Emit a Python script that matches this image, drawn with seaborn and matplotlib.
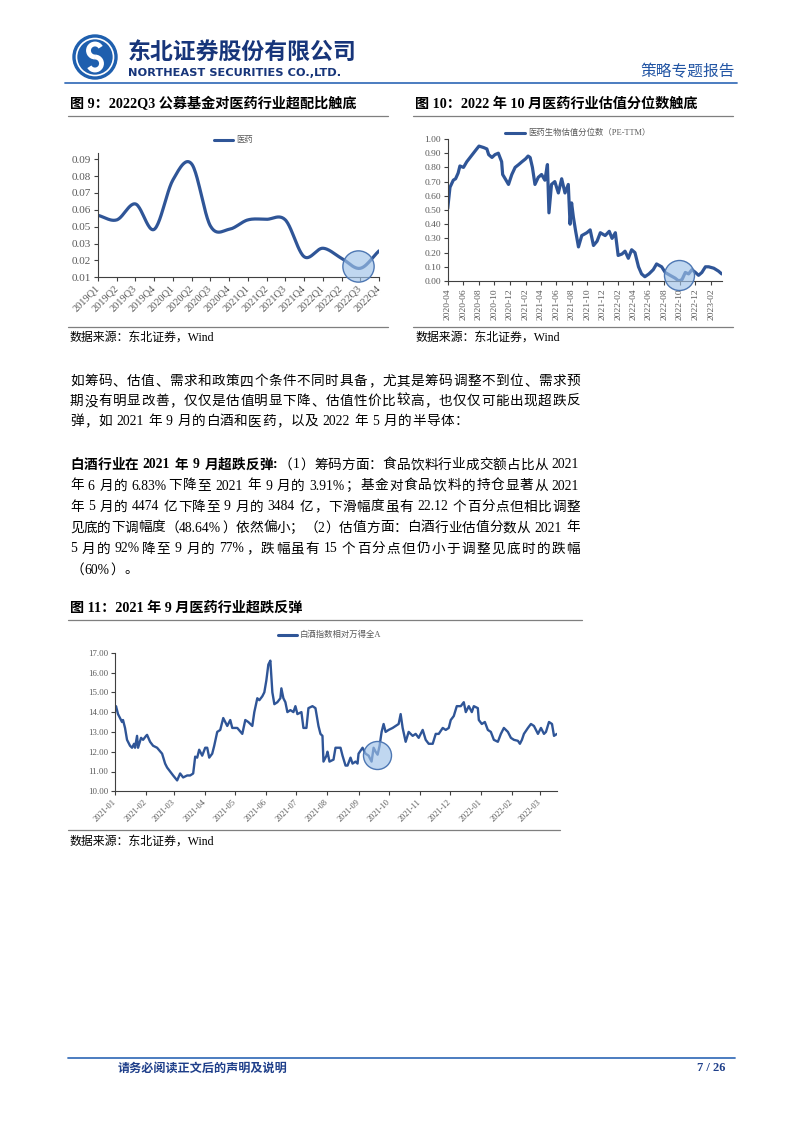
import numpy as np
import pandas as pd
import matplotlib
matplotlib.use('Agg')
import matplotlib.pyplot as plt
import matplotlib.dates as mdates
from matplotlib.patches import Circle, Arc
import seaborn as sns

sns.set_theme(style='ticks')
SERIF_CJK = ['Liberation Serif', 'Noto Sans CJK SC']
SANS_CJK = ['Noto Sans CJK SC', 'DejaVu Sans']
plt.rcParams['font.family'] = SERIF_CJK
plt.rcParams['axes.unicode_minus'] = False

# ---------------- data: figure 9 ----------------
quarters = ['2019Q1', '2019Q2', '2019Q3', '2019Q4', '2020Q1', '2020Q2', '2020Q3', '2020Q4',
            '2021Q1', '2021Q2', '2021Q3', '2021Q4', '2022Q1', '2022Q2', '2022Q3', '2022Q4']
pharma_overweight = [0.0520, 0.0489, 0.0597, 0.0425, 0.0760, 0.0868, 0.0448, 0.0425,
                     0.0489, 0.0493, 0.0489, 0.0240, 0.0297, 0.0229, 0.0161, 0.0279]
overweight_ticklabels = ['0.01', '0.02', '0.03', '0.05', '0.06', '0.07', '0.08', '0.09']
legend1 = '医药'

# ---------------- data: figure 10 ----------------
val_dates = ['2020-04-01', '2020-04-10', '2020-04-23', '2020-05-02', '2020-05-12', '2020-05-19',
             '2020-06-02', '2020-06-15', '2020-06-28', '2020-07-11', '2020-07-24', '2020-08-02',
             '2020-08-20', '2020-09-02', '2020-09-09', '2020-09-22', '2020-10-04', '2020-10-17',
             '2020-10-30', '2020-11-03', '2020-11-13', '2020-11-26', '2020-12-09', '2020-12-22',
             '2021-01-05', '2021-01-18', '2021-02-01', '2021-02-11', '2021-02-19', '2021-02-28',
             '2021-03-10', '2021-03-23', '2021-04-05', '2021-04-18', '2021-04-28', '2021-05-04',
             '2021-05-14', '2021-05-27', '2021-06-10', '2021-06-23', '2021-07-06', '2021-07-19',
             '2021-07-26', '2021-08-01', '2021-08-08', '2021-08-17', '2021-08-28', '2021-09-10',
             '2021-09-30', '2021-10-13', '2021-10-26', '2021-11-09', '2021-11-22', '2021-12-11',
             '2021-12-27', '2022-01-07', '2022-01-20', '2022-01-31', '2022-02-15', '2022-02-27',
             '2022-03-12', '2022-03-25', '2022-04-07', '2022-04-21', '2022-05-03', '2022-05-16',
             '2022-06-01', '2022-06-18', '2022-07-01', '2022-07-21', '2022-08-04', '2022-08-23',
             '2022-09-12', '2022-09-26', '2022-10-09', '2022-10-22', '2022-11-04', '2022-11-17',
             '2022-12-01', '2022-12-13', '2022-12-26', '2023-01-09', '2023-01-22', '2023-02-11',
             '2023-03-01', '2023-03-14']
val_pct = [0.51, 0.66, 0.71, 0.72, 0.76, 0.81, 0.80, 0.84, 0.87, 0.90, 0.93, 0.95,
           0.94, 0.93, 0.89, 0.87, 0.89, 0.90, 0.84, 0.75, 0.72, 0.68, 0.75, 0.80,
           0.82, 0.84, 0.86, 0.88, 0.87, 0.80, 0.68, 0.73, 0.75, 0.71, 0.82, 0.48,
           0.68, 0.70, 0.62, 0.72, 0.62, 0.68, 0.40, 0.55, 0.45, 0.35, 0.24, 0.32,
           0.34, 0.36, 0.25, 0.28, 0.34, 0.32, 0.35, 0.30, 0.34, 0.18, 0.19, 0.21,
           0.16, 0.22, 0.20, 0.10, 0.05, 0.03, 0.05, 0.08, 0.12, 0.10, 0.06, 0.04,
           0.02, 0.00, 0.01, 0.06, 0.05, 0.08, 0.06, 0.04, 0.06, 0.10, 0.10, 0.09,
           0.07, 0.05]
legend2 = '医药生物估值分位数（PE-TTM）'

# ---------------- data: figure 11 ----------------
rel_dates = ['2021-01-01', '2021-01-02', '2021-01-04', '2021-01-08', '2021-01-09', '2021-01-11',
             '2021-01-13', '2021-01-16', '2021-01-18', '2021-01-20', '2021-01-21', '2021-01-23',
             '2021-01-24', '2021-01-27', '2021-01-29', '2021-02-01', '2021-02-02', '2021-02-05',
             '2021-02-08', '2021-02-12', '2021-02-17', '2021-02-20', '2021-02-22', '2021-02-25',
             '2021-02-28', '2021-03-04', '2021-03-07', '2021-03-10', '2021-03-14', '2021-03-17',
             '2021-03-20', '2021-03-22', '2021-03-24', '2021-03-26', '2021-03-29', '2021-04-01',
             '2021-04-03', '2021-04-05', '2021-04-08', '2021-04-10', '2021-04-13', '2021-04-16',
             '2021-04-19', '2021-04-23', '2021-04-26', '2021-04-28', '2021-05-03', '2021-05-08',
             '2021-05-11', '2021-05-14', '2021-05-18', '2021-05-20', '2021-05-23', '2021-05-25',
             '2021-05-28', '2021-05-30', '2021-06-01', '2021-06-03', '2021-06-05', '2021-06-07',
             '2021-06-09', '2021-06-12', '2021-06-15', '2021-06-16', '2021-06-18', '2021-06-20',
             '2021-06-22', '2021-06-25', '2021-06-28', '2021-06-30', '2021-07-02', '2021-07-06',
             '2021-07-08', '2021-07-11', '2021-07-13', '2021-07-17', '2021-07-20', '2021-07-23',
             '2021-07-25', '2021-07-27', '2021-07-28', '2021-07-31', '2021-08-01', '2021-08-03',
             '2021-08-07', '2021-08-09', '2021-08-11', '2021-08-14', '2021-08-16', '2021-08-19',
             '2021-08-21', '2021-08-24', '2021-08-26', '2021-08-29', '2021-08-31', '2021-09-01',
             '2021-09-05', '2021-09-08', '2021-09-11', '2021-09-14', '2021-09-16', '2021-09-18',
             '2021-09-20', '2021-09-22', '2021-09-24', '2021-09-26', '2021-09-28', '2021-10-01',
             '2021-10-05', '2021-10-08', '2021-10-11', '2021-10-13', '2021-10-15', '2021-10-18',
             '2021-10-21', '2021-10-25', '2021-10-28', '2021-10-31', '2021-11-04', '2021-11-07',
             '2021-11-10', '2021-11-14', '2021-11-17', '2021-11-20', '2021-11-24', '2021-11-27',
             '2021-11-30', '2021-12-02', '2021-12-05', '2021-12-08', '2021-12-12', '2021-12-15',
             '2021-12-17', '2021-12-20', '2021-12-23', '2021-12-25', '2021-12-29', '2021-12-30',
             '2022-01-02', '2022-01-05', '2022-01-08', '2022-01-11', '2022-01-14', '2022-01-18',
             '2022-01-21', '2022-01-24', '2022-01-28', '2022-01-31', '2022-02-03', '2022-02-07',
             '2022-02-09', '2022-02-11', '2022-02-13', '2022-02-17', '2022-02-20', '2022-02-23',
             '2022-02-27', '2022-03-02', '2022-03-05', '2022-03-07', '2022-03-10', '2022-03-13',
             '2022-03-15', '2022-03-18']
rel_vals = [14.10, 14.30, 13.90, 13.50, 13.60, 13.20, 12.60, 12.30, 12.20, 12.40, 12.20, 12.80,
            12.20, 12.70, 12.60, 12.80, 12.85, 12.50, 12.30, 12.20, 11.90, 11.40, 11.20, 11.00,
            10.80, 10.55, 10.90, 10.70, 10.80, 10.80, 10.90, 11.75, 11.70, 12.10, 11.80, 12.20,
            12.20, 11.70, 11.90, 12.30, 13.00, 13.10, 13.70, 13.30, 13.60, 13.20, 13.20, 12.90,
            13.60, 13.50, 13.30, 14.00, 14.70, 14.60, 14.80, 15.00, 15.60, 16.40, 16.60, 15.00,
            14.40, 14.50, 14.70, 15.20, 14.70, 14.50, 14.00, 14.10, 14.00, 14.30, 13.90, 14.00,
            13.20, 13.20, 14.20, 14.30, 14.20, 13.30, 12.90, 12.80, 11.50, 11.80, 12.00, 11.50,
            11.60, 12.20, 12.20, 12.20, 11.80, 11.30, 11.30, 11.70, 11.40, 11.50, 11.40, 11.90,
            12.20, 11.90, 11.80, 11.50, 12.20, 12.00, 11.85, 12.30, 13.00, 13.40, 13.00, 13.10,
            13.20, 13.30, 13.40, 13.90, 13.20, 12.50, 13.00, 12.80, 12.90, 12.70, 13.10, 12.60,
            12.40, 12.40, 12.90, 12.90, 13.20, 13.10, 13.20, 13.60, 13.80, 14.30, 14.30, 14.50,
            14.00, 14.30, 14.00, 14.30, 14.20, 13.60, 13.40, 13.50, 13.10, 13.00, 12.60, 12.50,
            12.90, 13.20, 13.00, 12.70, 12.60, 12.55, 12.40, 12.60, 12.90, 13.20, 13.40, 13.30,
            12.90, 13.20, 12.90, 13.00, 13.50, 13.40, 12.80, 12.90]
legend3 = '白酒指数相对万得全A'

# highlight circles (centre readings)
hl1 = (13.86, 0.0177)
hl2 = ('2022-09-26', 0.042)
hl3 = ('2021-09-19', 11.83)

LINE = '#2f5597'
TICK_C = '#595959'
AX_C = '#404040'
HL_FACE = (0.62, 0.76, 0.91, 0.65)
HL_EDGE = '#4d77b3'

W, H = 802, 1133
fig = plt.figure(figsize=(W / 100, H / 100), dpi=100)
bg = fig.add_axes([0, 0, 1, 1], zorder=0)
bg.set_xlim(0, W)
bg.set_ylim(H, 0)
bg.axis('off')
renderer = fig.canvas.get_renderer()


def rect(l, r, t, b):
    return [l / W, (H - b) / H, (r - l) / W, (b - t) / H]


def style(ax):
    for s in ['top', 'right']:
        ax.spines[s].set_visible(False)
    for s in ['left', 'bottom']:
        ax.spines[s].set_color(AX_C)
        ax.spines[s].set_linewidth(0.8)
    ax.tick_params(axis='both', which='major', direction='out', length=3, width=0.8,
                   color=AX_C, labelcolor=TICK_C, pad=2)
    ax.set_facecolor('none')
    ax.set_xlabel('')
    ax.set_ylabel('')
    ax.grid(False)


# ---------------- header ----------------
bg.add_patch(Circle((95, 57), 22, color='#1e5fae'))
bg.add_patch(Circle((95, 57), 18.5, fill=False, ec='white', lw=1.2))
bg.add_patch(Arc((95, 50.5), 13, 13, theta1=90, theta2=330, color='white', lw=3.5))
bg.add_patch(Arc((95, 63.5), 13, 13, theta1=-90, theta2=150, color='white', lw=3.5))
bg.text(128, 52, '东北证券股份有限公司', fontsize=16.5, weight='bold', color='#17357a',
        family=SANS_CJK, va='center', ha='left')
bg.text(128, 72.5, 'NORTHEAST SECURITIES CO.,LTD.', fontsize=8.2, weight='bold', color='#17357a',
        family=['DejaVu Sans'], va='center', ha='left')
bg.text(735, 72, '策略专题报告', fontsize=11.3, color='#2255a4', family=SANS_CJK,
        va='center', ha='right')
bg.plot([65, 737], [83, 83], color='#3d72bb', lw=1.3)

# ---------------- titles / sources ----------------
TFS = 10.2
bg.text(70, 104, '图 9：2022Q3 公募基金对医药行业超配比触底', fontsize=TFS, weight='bold',
        family=SERIF_CJK, va='center', ha='left', color='black')
bg.text(415, 104, '图 10：2022 年 10 月医药行业估值分位数触底', fontsize=TFS, weight='bold',
        family=SERIF_CJK, va='center', ha='left', color='black')
bg.text(70, 608, '图 11：2021 年 9 月医药行业超跌反弹', fontsize=TFS, weight='bold',
        family=SERIF_CJK, va='center', ha='left', color='black')
for x0, x1, y in [(68, 388, 116), (413, 733, 116), (68, 582, 620),
                  (68, 388, 327), (413, 733, 327), (68, 560, 830)]:
    bg.plot([x0, x1], [y, y], color='#7f7f7f', lw=0.9)
for x, y in [(70, 338), (415, 338), (70, 841.5)]:
    bg.text(x, y, '数据来源：东北证券，Wind', fontsize=8.6, family=SERIF_CJK,
            va='center', ha='left', color='black')

# legends
for (lx0, lx1, ly, txt) in [(214, 233, 140, legend1), (505, 525, 133, legend2),
                            (278, 297, 635, legend3)]:
    bg.plot([lx0, lx1], [ly, ly], color=LINE, lw=2.2)
    bg.text(lx1 + 3, ly, txt, fontsize=6, color=TICK_C, family=SERIF_CJK, va='center', ha='left')


# ---------------- figure 9 ----------------
def catmull(xs, ys, n=24):
    P = np.column_stack([np.asarray(xs, float), np.asarray(ys, float)])
    P = np.vstack([2 * P[0] - P[1], P, 2 * P[-1] - P[-2]])
    out = []
    t = np.linspace(0, 1, n, endpoint=False)[:, None]
    for i in range(1, len(P) - 2):
        p0, p1, p2, p3 = P[i - 1], P[i], P[i + 1], P[i + 2]
        pts = 0.5 * ((2 * p1) + (-p0 + p2) * t + (2 * p0 - 5 * p1 + 4 * p2 - p3) * t ** 2
                     + (-p0 + 3 * p1 - 3 * p2 + p3) * t ** 3)
        out.append(pts)
    out.append(P[-2][None, :])
    return np.vstack(out)


ax1 = fig.add_axes(rect(98, 379, 152.6, 277.3), zorder=1)
sm = catmull(np.arange(len(quarters)), pharma_overweight)
sns.lineplot(x=sm[:, 0], y=sm[:, 1], ax=ax1, sort=False, estimator=None, color=LINE, lw=2.3)
ax1.scatter([hl1[0]], [hl1[1]], s=507, facecolor=HL_FACE, edgecolor=HL_EDGE, linewidth=1,
            zorder=5, clip_on=False)
ax1.set_xlim(0, len(quarters) - 1)
ax1.set_ylim(0.01, 0.0945)
ax1.set_yticks(np.linspace(0.01, 0.09, len(overweight_ticklabels)))
ax1.set_yticklabels(overweight_ticklabels)
ax1.set_xticks(range(len(quarters)))
ax1.set_xticklabels(quarters, rotation=45, ha='right', va='center', rotation_mode='anchor')
style(ax1)
ax1.tick_params(axis='y', labelsize=8)
ax1.tick_params(axis='x', labelsize=7.5, pad=4)

# ---------------- figure 10 ----------------
ax2 = fig.add_axes(rect(447.7, 721.7, 139, 281), zorder=1)
d2 = pd.DataFrame({'date': pd.to_datetime(val_dates), 'v': val_pct})
sns.lineplot(data=d2, x='date', y='v', ax=ax2, estimator=None, color=LINE, lw=2.3)
ax2.scatter([mdates.date2num(pd.Timestamp(hl2[0]))], [hl2[1]], s=467, facecolor=HL_FACE,
            edgecolor=HL_EDGE, linewidth=1, zorder=5, clip_on=False)
ax2.set_xlim(d2['date'].iloc[0], d2['date'].iloc[-1])
ax2.set_ylim(0, 1.0)
ax2.set_yticks(np.arange(0, 1.01, 0.1))
ax2.yaxis.set_major_formatter(matplotlib.ticker.FormatStrFormatter('%.2f'))
ax2.xaxis.set_major_locator(mdates.MonthLocator(bymonth=[2, 4, 6, 8, 10, 12]))
ax2.xaxis.set_major_formatter(mdates.DateFormatter('%Y-%m'))
style(ax2)
for lab in ax2.get_xticklabels():
    lab.set_rotation(90)
    lab.set_ha('center')
    lab.set_va('top')
ax2.tick_params(axis='y', labelsize=6.8)
ax2.tick_params(axis='x', labelsize=6.8)

# ---------------- figure 11 ----------------
ax3 = fig.add_axes(rect(115, 557, 652.7, 791.3), zorder=1)
d3 = pd.DataFrame({'date': pd.to_datetime(rel_dates), 'v': rel_vals})
sns.lineplot(data=d3, x='date', y='v', ax=ax3, estimator=None, color=LINE, lw=1.7)
ax3.scatter([mdates.date2num(pd.Timestamp(hl3[0]))], [hl3[1]], s=407, facecolor=HL_FACE,
            edgecolor=HL_EDGE, linewidth=1, zorder=5, clip_on=False)
ax3.set_xlim(d3['date'].iloc[0], d3['date'].iloc[-1])
ax3.set_ylim(10, 17)
ax3.set_yticks(np.arange(10, 17.01, 1))
ax3.yaxis.set_major_formatter(matplotlib.ticker.FormatStrFormatter('%.2f'))
ax3.xaxis.set_major_locator(mdates.MonthLocator())
ax3.xaxis.set_major_formatter(mdates.DateFormatter('%Y-%m'))
style(ax3)
for lab in ax3.get_xticklabels():
    lab.set_rotation(45)
    lab.set_ha('right')
    lab.set_va('center')
    lab.set_rotation_mode('anchor')
ax3.tick_params(axis='y', labelsize=6.3)
ax3.tick_params(axis='x', labelsize=6.0, pad=4)

# ---------------- body text ----------------
FS_BODY = 9.8
EM = FS_BODY * 100 / 72
X_LEFT, X_RIGHT = 70, 580


def is_cjk(s):
    return len(s) == 1 and ord(s) > 0x2000


def tokenize(segs):
    toks = []
    for txt, wt in segs:
        buf = ''
        for ch in txt:
            if is_cjk(ch) or ch == ' ':
                if buf:
                    toks.append((buf, wt))
                    buf = ''
                toks.append((ch, wt))
            else:
                buf += ch
        if buf:
            toks.append((buf, wt))
    return toks


def tok_width(tok, wt):
    if tok == ' ':
        return EM * 0.3
    if is_cjk(tok):
        return EM
    t = bg.text(0, 0, tok, fontsize=FS_BODY, weight=wt, family=SERIF_CJK)
    w = t.get_window_extent(renderer).width
    t.remove()
    return w + 0.8


def draw_line(y, segs, justify=True, x0=X_LEFT, x1=X_RIGHT):
    toks = tokenize(segs)
    ws = [tok_width(t, w) for t, w in toks]
    n_gaps = sum(1 for a, b in zip(toks[:-1], toks[1:]) if a[0] != ' ' and b[0] != ' ')
    gap = (x1 - x0 - sum(ws)) / max(n_gaps, 1) if justify else 0.5
    x = x0
    for i, ((t, wt), w) in enumerate(zip(toks, ws)):
        if t != ' ':
            bg.text(x, y, t, fontsize=FS_BODY, weight=wt, family=SERIF_CJK,
                    va='center', ha='left', color='black')
        x += w
        if i + 1 < len(toks) and t != ' ' and toks[i + 1][0] != ' ':
            x += gap


N = 'normal'
B = 'bold'
draw_line(381.5, [('如筹码、估值、需求和政策四个条件不同时具备，尤其是筹码调整不到位、需求预', N)])
draw_line(401.5, [('期没有明显改善，仅仅是估值明显下降、估值性价比较高，也仅仅可能出现超跌反', N)])
draw_line(421.5, [('弹，如 2021 年 9 月的白酒和医药，以及 2022 年 5 月的半导体：', N)], justify=False)
draw_line(465, [('白酒行业在 2021 年 9 月超跌反弹:', B), ('（1）筹码方面：食品饮料行业成交额占比从 2021', N)])
draw_line(486, [('年 6 月的 6.83%下降至 2021 年 9 月的 3.91%；基金对食品饮料的持仓显著从 2021', N)])
draw_line(507, [('年 5 月的 4474 亿下降至 9 月的 3484 亿，下滑幅度虽有 22.12 个百分点但相比调整', N)])
draw_line(528, [('见底的下调幅度（48.64%）依然偏小；（2）估值方面：白酒行业估值分数从 2021 年', N)])
draw_line(549, [('5 月的 92%降至 9 月的 77%，跌幅虽有 15 个百分点但仍小于调整见底时的跌幅', N)])
draw_line(570, [('（60%）。', N)], justify=False)

# ---------------- footer ----------------
bg.plot([68, 735], [1058, 1058], color='#3d72bb', lw=1.3)
bg.text(118, 1068, '请务必阅读正文后的声明及说明', fontsize=8.7, weight='bold', color='#1f3f8a',
        family=SANS_CJK, va='center', ha='left')
bg.text(725, 1068, '7 / 26', fontsize=9, weight='bold', color='#1f3f8a', family=SERIF_CJK,
        va='center', ha='right')

fig.savefig('out.png', dpi=100)
